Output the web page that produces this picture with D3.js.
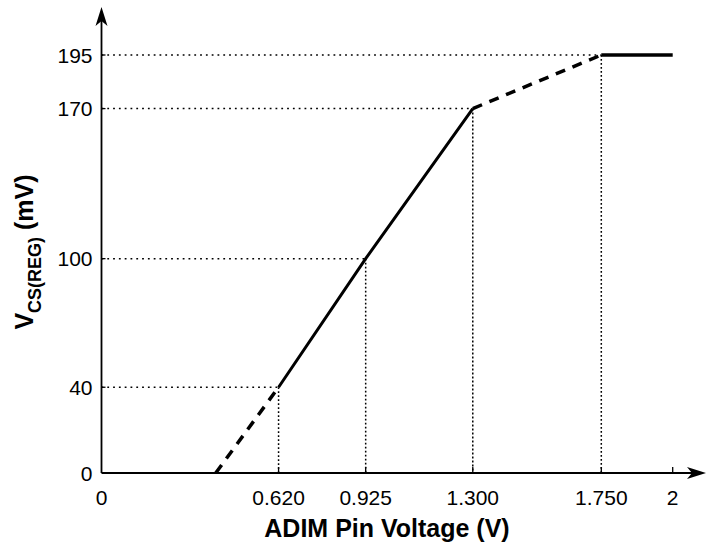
<!DOCTYPE html>
<html><head><meta charset="utf-8">
<script src="https://cdn.jsdelivr.net/npm/d3@7"></script>
<style>body{margin:0;background:#fff}svg{display:block}</style>
</head><body>
<svg id="c" width="714" height="545"></svg>
<script>
const xTickValues = [0, 0.62, 0.925, 1.3, 1.75, 2];
const xTickLabels = ["0", "0.620", "0.925", "1.300", "1.750", "2"];
const yTickValues = [0, 40, 100, 170, 195];
const yTickLabels = ["0", "40", "100", "170", "195"];
// guide points (x V, y mV) with dotted drop lines
const guidePoints = [[0.62, 40], [0.925, 100], [1.3, 170], [1.75, 195]];
const solidMain = [[0.62, 40], [0.925, 100], [1.3, 170]];
const solidFlat = [[1.75, 195], [2, 195]];
const dashedLow = [[0.4, 0], [0.62, 40]];
const dashedHigh = [[1.3, 170], [1.75, 195]];

const svg = d3.select("#c");
const x = d3.scaleLinear().domain([0, 2]).range([101.5, 672.7]);
const y = d3.scaleLinear().domain([0, 195]).range([473, 55]);
const font = "'Liberation Sans', Arial, sans-serif";

// dotted guides
guidePoints.forEach(([vx, vy]) => {
  svg.append("line").attr("x1", x(0)).attr("x2", x(vx)).attr("y1", y(vy)).attr("y2", y(vy))
    .attr("stroke", "#000").attr("stroke-width", 1.5).attr("stroke-dasharray", "1.8,4");
  svg.append("line").attr("x1", x(vx)).attr("x2", x(vx)).attr("y1", y(vy)).attr("y2", y(0))
    .attr("stroke", "#000").attr("stroke-width", 1.5).attr("stroke-dasharray", "1.8,2.2");
});

const line = d3.line().x(d => x(d[0])).y(d => y(d[1]));
svg.append("path").attr("d", line(solidMain)).attr("fill", "none").attr("stroke", "#000").attr("stroke-width", 3);
svg.append("path").attr("d", line(solidFlat)).attr("fill", "none").attr("stroke", "#000").attr("stroke-width", 3.5);
[dashedLow, dashedHigh].forEach(seg => {
  svg.append("path").attr("d", line(seg)).attr("fill", "none").attr("stroke", "#000")
    .attr("stroke-width", 3.5).attr("stroke-dasharray", "10,8");
});

// axes lines
svg.append("line").attr("x1", x(0)).attr("x2", 700).attr("y1", y(0)).attr("y2", y(0)).attr("stroke", "#000").attr("stroke-width", 1.8);
svg.append("line").attr("x1", x(0)).attr("x2", x(0)).attr("y1", y(0)).attr("y2", 14).attr("stroke", "#000").attr("stroke-width", 1.8);
// arrowheads
const ax = x(0), ay = y(0);
svg.append("path").attr("d", `M${ax},7 L${ax - 6},26 L${ax},21 L${ax + 6},26 Z`).attr("fill", "#000");
svg.append("path").attr("d", `M706,${ay} L687,${ay - 6} L692,${ay} L687,${ay + 6} Z`).attr("fill", "#000");

// x ticks
xTickValues.forEach((v, i) => {
  if (v > 0) svg.append("line").attr("x1", x(v)).attr("x2", x(v)).attr("y1", ay).attr("y2", ay - 6)
    .attr("stroke", "#000").attr("stroke-width", 1.3);
  svg.append("text").attr("x", x(v)).attr("y", 505).attr("text-anchor", "middle")
    .attr("font-family", font).attr("font-size", 21).text(xTickLabels[i]);
});
// y ticks
yTickValues.forEach((v, i) => {
  if (v > 0) svg.append("line").attr("x1", ax).attr("x2", ax + 4).attr("y1", y(v)).attr("y2", y(v))
    .attr("stroke", "#000").attr("stroke-width", 1.3);
  svg.append("text").attr("x", 92.5).attr("y", y(v)).attr("dy", "0.36em").attr("text-anchor", "end")
    .attr("font-family", font).attr("font-size", 21).text(yTickLabels[i]);
});

// axis titles
svg.append("text").attr("x", 387).attr("y", 537).attr("text-anchor", "middle")
  .attr("font-family", font).attr("font-size", 25).attr("font-weight", "bold").text("ADIM Pin Voltage (V)");
const yt = svg.append("text").attr("transform", "translate(33,252) rotate(-90)").attr("text-anchor", "middle")
  .attr("font-family", font).attr("font-weight", "bold").attr("font-size", 25);
yt.append("tspan").text("V");
yt.append("tspan").attr("font-size", 18).attr("dy", 8).text("CS(REG)");
yt.append("tspan").attr("dy", -8).text(" (mV)");
</script>
</body></html>
